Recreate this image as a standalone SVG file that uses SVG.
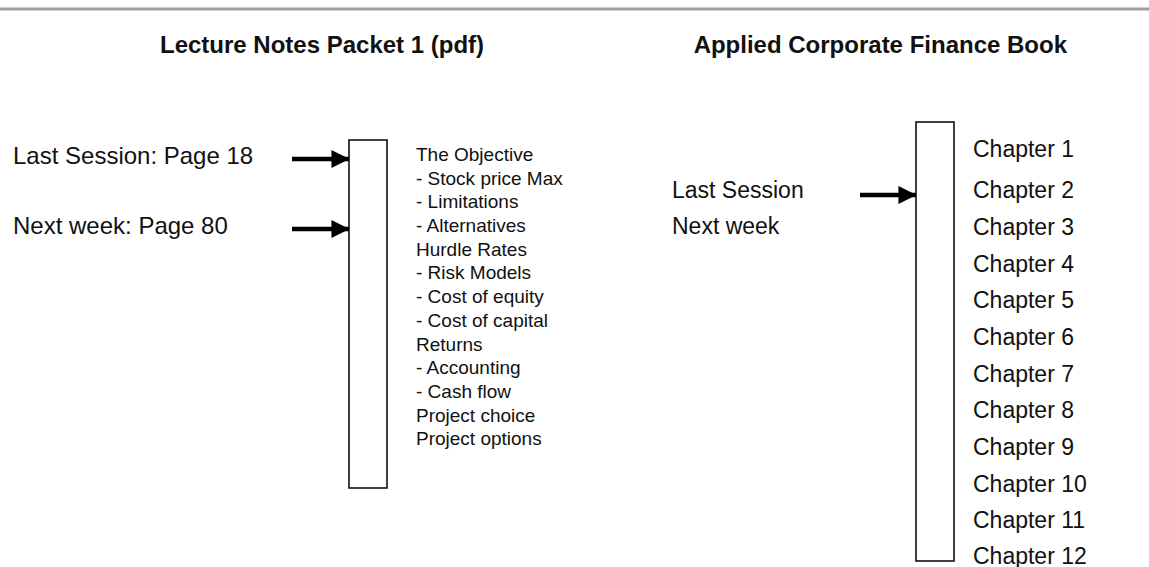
<svg xmlns="http://www.w3.org/2000/svg" width="1149" height="567" viewBox="0 0 1149 567">
<style>
.t{font-family:"Liberation Sans",Arial,sans-serif;fill:#111}
.h{font-size:24px;font-weight:bold}
.l{font-size:24px}
.r{font-size:23px}
.s{font-size:19px}
.bar{fill:#fff;stroke:#111;stroke-width:1.6}
.c{stroke:#000;stroke-width:4.5;fill:none}
</style>
<defs>
<marker id="ah" markerWidth="4" markerHeight="4" refX="3.9" refY="2" orient="auto" markerUnits="strokeWidth">
<path d="M0,0 L4,2 L0,4 Z" fill="#000"/>
</marker>
</defs>
<rect width="1149" height="567" fill="#fff"/>
<line x1="0" y1="9" x2="1149" y2="9" stroke="#a0a0a0" stroke-width="3"/>
<g id="titles">
<text class="t h" x="160" y="53">Lecture Notes Packet 1 (pdf)</text>
<text class="t h" x="1067" y="53" text-anchor="end">Applied Corporate Finance Book</text>
</g>
<g id="left-labels">
<text class="t l" x="13" y="164">Last Session: Page 18</text>
<text class="t l" x="13" y="234">Next week: Page 80</text>
</g>
<g id="left-bar"><rect class="bar" x="349" y="140" width="38" height="348"/></g>
<g id="left-list" class="t s">
<text x="416" y="161">The Objective</text>
<text x="416" y="185">- Stock price Max</text>
<text x="416" y="208">- Limitations</text>
<text x="416" y="232">- Alternatives</text>
<text x="416" y="256">Hurdle Rates</text>
<text x="416" y="279">- Risk Models</text>
<text x="416" y="303">- Cost of equity</text>
<text x="416" y="327">- Cost of capital</text>
<text x="416" y="351">Returns</text>
<text x="416" y="374">- Accounting</text>
<text x="416" y="398">- Cash flow</text>
<text x="416" y="422">Project choice</text>
<text x="416" y="445">Project options</text>
</g>
<g id="right-labels" class="t r">
<text x="672" y="198">Last Session</text>
<text x="672" y="234">Next week</text>
</g>
<g id="right-bar"><rect class="bar" x="916" y="122" width="38" height="439"/></g>
<g id="chapters" class="t r">
<text x="973" y="157">Chapter 1</text>
<text x="973" y="198">Chapter 2</text>
<text x="973" y="235">Chapter 3</text>
<text x="973" y="272">Chapter 4</text>
<text x="973" y="308">Chapter 5</text>
<text x="973" y="345">Chapter 6</text>
<text x="973" y="382">Chapter 7</text>
<text x="973" y="418">Chapter 8</text>
<text x="973" y="455">Chapter 9</text>
<text x="973" y="492">Chapter 10</text>
<text x="973" y="528">Chapter 11</text>
<text x="973" y="564">Chapter 12</text>
</g>
<g id="connectors">
<line class="c" x1="292" y1="159" x2="349" y2="159" marker-end="url(#ah)"/>
<line class="c" x1="292" y1="229" x2="349" y2="229" marker-end="url(#ah)"/>
<line class="c" x1="860" y1="195" x2="916" y2="195" marker-end="url(#ah)"/>
</g>
</svg>
